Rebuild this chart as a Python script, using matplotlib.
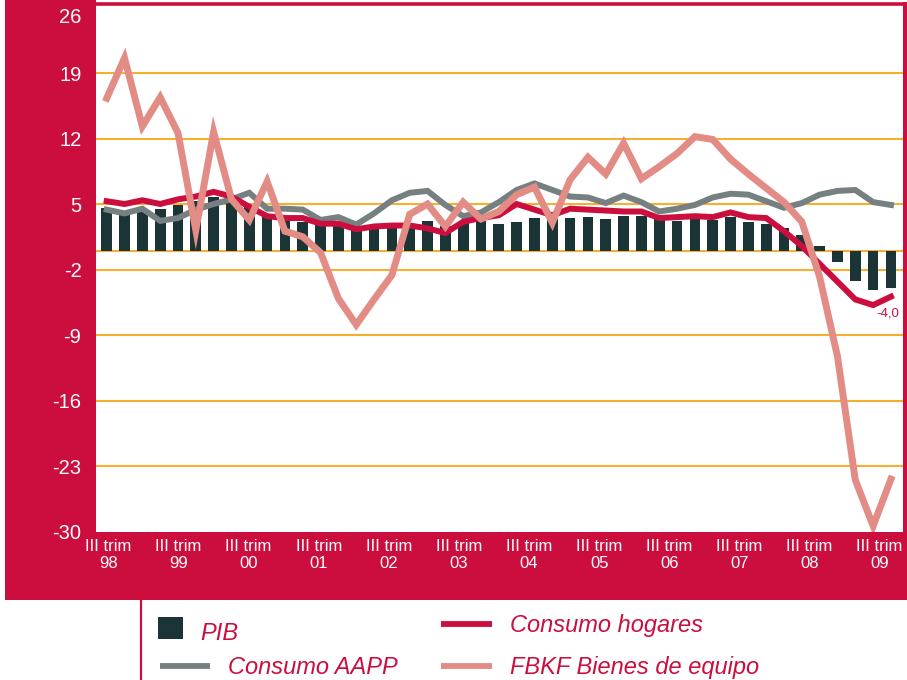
import numpy as np
import matplotlib
matplotlib.use("Agg")
import matplotlib.pyplot as plt
from matplotlib.patches import Rectangle
from matplotlib.lines import Line2D

# datos trimestrales, III trim 98 .. III trim 09 (tasas de variación, %)
years = ['98', '99', '00', '01', '02', '03', '04', '05', '06', '07', '08', '09']
tick_labels = ['III trim\n' + y for y in years]
yticks = [26, 19, 12, 5, -2, -9, -16, -23, -30]

pib = [4.6, 4.3, 4.3, 4.5, 4.9, 5.3, 5.8, 5.3, 4.8, 3.6,
       3.2, 3.1, 2.9, 2.9, 2.2, 2.4, 2.4, 2.5, 3.2, 2.7,
       3.1, 3.2, 2.9, 3.1, 3.5, 3.4, 3.5, 3.6, 3.4, 3.7,
       3.7, 3.4, 3.2, 3.4, 3.3, 3.6, 3.1, 2.9, 2.4, 1.7,
       0.5, -1.2, -3.2, -4.2, -4.0]
consumo_hogares = [5.3, 5.0, 5.4, 5.0, 5.5, 5.8, 6.3, 5.8, 4.7, 3.7,
                   3.5, 3.5, 2.9, 2.9, 2.3, 2.6, 2.7, 2.7, 2.4, 1.9,
                   3.1, 3.5, 3.8, 5.0, 4.4, 3.8, 4.5, 4.4, 4.3, 4.2,
                   4.2, 3.5, 3.6, 3.7, 3.6, 4.1, 3.6, 3.5, 2.1, 0.5,
                   -1.4, -3.3, -5.2, -5.8, -4.9]
consumo_aapp = [4.4, 4.0, 4.5, 3.2, 3.5, 4.4, 5.0, 5.5, 6.2, 4.5,
                4.5, 4.4, 3.3, 3.6, 2.8, 4.0, 5.4, 6.2, 6.4, 4.9,
                3.7, 4.1, 5.2, 6.5, 7.2, 6.5, 5.8, 5.7, 5.1, 5.9,
                5.2, 4.2, 4.5, 4.9, 5.7, 6.1, 6.0, 5.3, 4.6, 5.1,
                6.0, 6.4, 6.5, 5.2, 4.9]
fbkf_equipo = [16.3, 20.6, 13.3, 16.4, 12.6, 2.2, 12.7, 5.5, 3.3, 7.4,
               2.1, 1.5, -0.2, -5.1, -7.9, -5.2, -2.6, 3.9, 5.0, 2.6,
               5.2, 3.4, 4.2, 6.0, 6.8, 3.0, 7.6, 10.0, 8.2, 11.5,
               7.7, 9.0, 10.4, 12.2, 11.9, 9.8, 8.2, 6.7, 5.2, 3.1,
               -2.8, -11.3, -24.5, -29.4, -24.4]

quarters = np.arange(len(pib))

CRIMSON = '#CC0E3E'
PINK = '#E28C85'
GREY = '#778080'
DARK = '#1B3436'
GOLD = '#F6B030'

W, H = 907, 680
fig = plt.figure(figsize=(W / 100, H / 100), dpi=100)


def fx(x):
    return x / W


def fy(y):
    return 1 - y / H


# marco granate
fig.add_artist(Rectangle((fx(5), fy(600)), fx(96) - fx(5), fy(0) - fy(600),
                         transform=fig.transFigure, color=CRIMSON, lw=0, zorder=-1))
fig.add_artist(Rectangle((fx(5), fy(600)), fx(907) - fx(5), fy(531) - fy(600),
                         transform=fig.transFigure, color=CRIMSON, lw=0, zorder=-1))
fig.add_artist(Line2D([fx(141), fx(141)], [fy(600), fy(680)],
                      transform=fig.transFigure, color=CRIMSON, lw=1.6))

ax = fig.add_axes([fx(96), fy(531.5), fx(904.5) - fx(96), fy(3.5) - fy(531.5)])
ax.set_facecolor('white')
ax.set_xlim(-0.6, 44.76)
ax.set_ylim(-30, 26.43)

for v in yticks[1:-1] + [0]:
    ax.axhline(v, color=GOLD, lw=1.5, zorder=0.5)

ax.bar(quarters, pib, width=0.6, color=DARK, zorder=2)
ax.plot(quarters, consumo_aapp, color=GREY, lw=4.3, zorder=3, solid_joinstyle='miter')
ax.plot(quarters, consumo_hogares, color=CRIMSON, lw=4.3, zorder=4, solid_joinstyle='miter')
ax.plot(quarters, fbkf_equipo, color=PINK, lw=5, zorder=5, solid_joinstyle='miter')

ax.annotate(f"{pib[-1]:.1f}".replace('.', ','), xy=(quarters[-1], pib[-1]),
            xytext=(-2, -18), textcoords='offset points', ha='center', va='center',
            color=CRIMSON, fontsize=9.5, family='Liberation Sans')

for side in ['left', 'bottom']:
    ax.spines[side].set_visible(False)
for side in ['top', 'right']:
    ax.spines[side].set_color(CRIMSON)
ax.spines['top'].set_linewidth(2.6)
ax.spines['right'].set_linewidth(3.6)

ax.set_yticks(yticks)
ax.set_yticklabels([str(v) for v in yticks], family='Liberation Sans', fontsize=14.5, color='white')
ax.set_xticks(np.linspace(0.1, 43.36, len(years)))
ax.set_xticklabels(tick_labels, family='Liberation Sans',
                   fontsize=12, color='white', linespacing=1.15)
ax.tick_params(axis='y', length=0, pad=10.5)
ax.tick_params(axis='x', length=0, pad=5.4)
ax.yaxis.get_major_ticks()[0].label1.set_verticalalignment('top')

# leyenda
fig.add_artist(Rectangle((fx(158), fy(639)), fx(183) - fx(158), fy(617) - fy(639),
                         transform=fig.transFigure, color=DARK, lw=0))
legend_lines = [(441, 492, 624, CRIMSON), (160, 210, 666, GREY), (441, 492, 666, PINK)]
for x0, x1, y, c in legend_lines:
    fig.add_artist(Line2D([fx(x0), fx(x1)], [fy(y), fy(y)], transform=fig.transFigure,
                          color=c, lw=4.2, solid_capstyle='butt'))
legend_texts = [('PIB', 200, 640), ('Consumo hogares', 510, 632),
                ('Consumo AAPP', 228, 674), ('FBKF Bienes de equipo', 510, 674)]
for t, x, y in legend_texts:
    fig.text(fx(x), fy(y), t, color=CRIMSON, fontsize=17, style='italic',
             family='Liberation Sans', va='baseline', ha='left')

fig.savefig('out.png', dpi=100, facecolor='white')
